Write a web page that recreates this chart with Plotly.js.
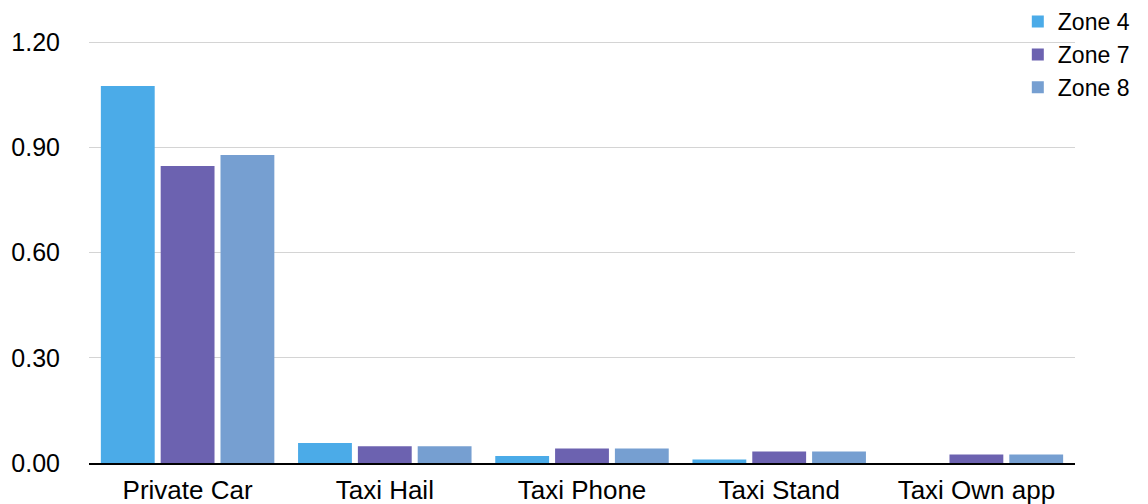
<!DOCTYPE html>
<html>
<head>
<meta charset="utf-8">
<script src="https://cdn.plot.ly/plotly-3.0.1.min.js"></script>
<style>html,body{margin:0;padding:0;background:#fff;}#chart{width:1148px;height:504px;}</style>
</head>
<body>
<div id="chart"></div>
<script>
const categories = ["Private Car", "Taxi Hail", "Taxi Phone", "Taxi Stand", "Taxi Own app"];
const zone4 = [1.075, 0.057, 0.020, 0.010, 0.0];
const zone7 = [0.847, 0.048, 0.041, 0.033, 0.024];
const zone8 = [0.878, 0.048, 0.041, 0.033, 0.024];
const seriesNames = ["Zone 4", "Zone 7", "Zone 8"];
const colors = ["#4BABE8", "#6C62B0", "#769FD1"];
const yTicks = [0, 0.3, 0.6, 0.9, 1.2];

const series = [zone4, zone7, zone8];
const data = series.map((vals, i) => ({
  type: "bar",
  name: seriesNames[i],
  x: categories,
  y: vals,
  marker: {color: colors[i]},
  hoverinfo: "x+y+name"
}));

const family = "Liberation Sans, Arial, sans-serif";
const layout = {
  width: 1148, height: 504,
  margin: {l: 89, r: 73, t: 20, b: 41, autoexpand: false},
  paper_bgcolor: "#fff", plot_bgcolor: "#fff",
  font: {family: family, size: 25, color: "#000"},
  barmode: "group",
  bargap: 0.09,
  bargroupgap: 0.1,
  showlegend: true,
  legend: {x: 0.942, y: 1.045, xanchor: "left", yanchor: "top", font: {family: family, size: 23, color: "#000"}, bgcolor: "rgba(0,0,0,0)", tracegroupgap: 0},
  xaxis: {
    type: "category",
    showline: true, linecolor: "#000", linewidth: 2,
    ticks: "", showgrid: false, zeroline: false,
    ticklabelstandoff: 3,
    tickfont: {family: family, size: 26, color: "#000"}
  },
  yaxis: {
    range: [0, 1.263],
    tickvals: yTicks,
    tickformat: ".2f",
    showgrid: true, gridcolor: "#d4d4d4", gridwidth: 1,
    zeroline: false, showline: false, ticks: "",
    ticklabelstandoff: 28,
    tickfont: {family: family, size: 25, color: "#000"}
  }
};
Plotly.newPlot("chart", data, layout, {displayModeBar: false});
</script>
</body>
</html>
